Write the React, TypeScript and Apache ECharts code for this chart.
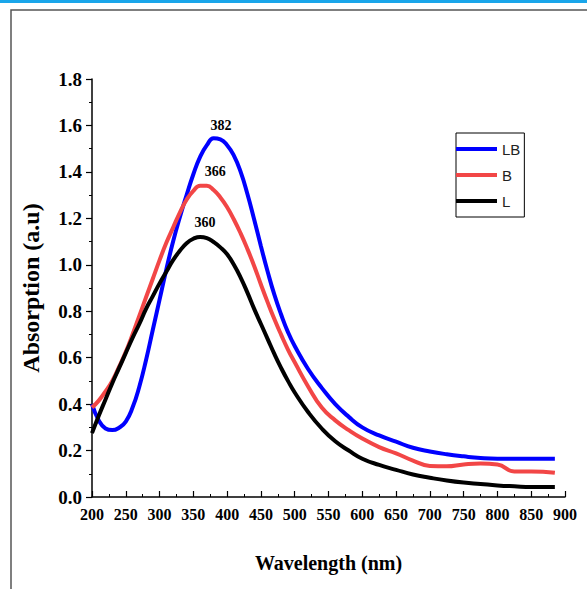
import React, { useEffect, useRef } from "react";
import * as echarts from "echarts";

const WAVELENGTHS = [200,210,220,230,240,250,260,270,280,290,300,310,320,330,340,350,360,370,380,390,400,410,420,430,440,450,460,470,480,490,500,520,540,560,580,600,625,650,675,700,725,750,775,800,825,850,885];

const LB = [0.40,0.33,0.295,0.288,0.298,0.325,0.385,0.475,0.59,0.72,0.85,0.98,1.10,1.205,1.30,1.39,1.465,1.515,1.545,1.54,1.515,1.47,1.40,1.305,1.195,1.08,0.97,0.87,0.785,0.71,0.65,0.55,0.47,0.40,0.345,0.30,0.265,0.238,0.212,0.196,0.184,0.175,0.168,0.165,0.165,0.165,0.165];

const B = [0.385,0.415,0.455,0.50,0.56,0.625,0.70,0.78,0.86,0.94,1.02,1.095,1.16,1.225,1.28,1.318,1.34,1.34,1.322,1.29,1.248,1.195,1.135,1.068,0.995,0.915,0.838,0.765,0.698,0.635,0.58,0.475,0.385,0.33,0.288,0.252,0.215,0.188,0.157,0.134,0.132,0.14,0.144,0.14,0.11,0.11,0.104];

const L = [0.275,0.35,0.42,0.49,0.555,0.62,0.685,0.745,0.81,0.865,0.92,0.97,1.02,1.06,1.093,1.112,1.12,1.115,1.098,1.075,1.045,1.00,0.945,0.88,0.81,0.745,0.68,0.615,0.555,0.50,0.45,0.365,0.295,0.24,0.20,0.165,0.138,0.117,0.097,0.083,0.071,0.062,0.056,0.05,0.046,0.043,0.043];

const SERIES_NAMES = ["LB", "B", "L"];
const SERIES_COLORS = ["#0000ff", "#f24646", "#000000"];
const PEAK_WAVELENGTHS = [382, 366, 360];
const PEAK_VALUES = [1.547, 1.345, 1.12];
const PEAK_LABEL_OFFSETS = [[6, -12], [11, -13], [5, -14]];

const X_MIN = 200, X_MAX = 900, X_STEP = 50;
const Y_MIN = 0, Y_MAX = 1.8, Y_STEP = 0.2;

export default function App() {
  const ref = useRef<HTMLDivElement>(null);
  useEffect(() => {
    if (!ref.current) return;
    const chart = echarts.init(ref.current, null, { renderer: "svg" });
    const data = [LB, B, L];
    const serif = "'Liberation Serif', 'Times New Roman', serif";
    chart.setOption({
      animation: false,
      backgroundColor: "#ffffff",
      grid: { left: 92, top: 79, right: 22, bottom: 92 },
      legend: {
        orient: "vertical",
        left: 456,
        top: 133,
        padding: [7, 4, 7, 0],
        borderColor: "#000",
        borderWidth: 1,
        itemWidth: 41,
        itemHeight: 4,
        itemGap: 8,
        icon: "rect",
        textStyle: { fontFamily: "'Liberation Sans', Arial, sans-serif", fontSize: 15, color: "#222", lineHeight: 18 },
        data: SERIES_NAMES,
      },
      xAxis: {
        type: "value",
        min: X_MIN,
        max: X_MAX,
        interval: X_STEP,
        name: "Wavelength (nm)",
        nameLocation: "middle",
        nameGap: 56,
        nameTextStyle: { fontFamily: serif, fontWeight: "bold", fontSize: 20, color: "#000" },
        axisLine: { show: true, lineStyle: { color: "#000", width: 1.5 } },
        axisTick: { show: true, inside: true, length: 6, lineStyle: { color: "#000", width: 1.2 } },
        minorTick: { show: true, splitNumber: 2, length: 3, lineStyle: { color: "#000", width: 1 } },
        splitLine: { show: false },
        axisLabel: { fontFamily: serif, fontWeight: "bold", fontSize: 16, color: "#000", margin: 9 },
      },
      yAxis: {
        type: "value",
        min: Y_MIN,
        max: Y_MAX,
        interval: Y_STEP,
        name: "Absorption (a.u)",
        nameLocation: "middle",
        nameGap: 49,
        nameTextStyle: { fontFamily: serif, fontWeight: "bold", fontSize: 24, color: "#000" },
        axisLine: { show: true, lineStyle: { color: "#000", width: 1.5 } },
        axisTick: { show: true, inside: false, length: 6, lineStyle: { color: "#000", width: 1.2 } },
        minorTick: { show: true, splitNumber: 2, length: 3, lineStyle: { color: "#000", width: 1 } },
        splitLine: { show: false },
        axisLabel: {
          fontFamily: serif, fontWeight: "bold", fontSize: 19, color: "#000", margin: 10,
          formatter: (v: number) => v.toFixed(1),
        },
      },
      graphic: [
        { type: "rect", left: 0, top: 0, shape: { width: 587, height: 3 }, style: { fill: "#1aa6ea" }, z: 100 },
        { type: "rect", x: 11, y: 10, shape: { width: 620, height: 620 }, style: { fill: "none", stroke: "#555", lineWidth: 1.5 }, z: -1 },
      ],
      series: SERIES_NAMES.map((name, i) => ({
        name,
        type: "line",
        smooth: 0.5,
        showSymbol: false,
        symbol: "none",
        lineStyle: { color: SERIES_COLORS[i], width: 4 },
        itemStyle: { color: SERIES_COLORS[i] },
        data: WAVELENGTHS.map((w, j) => [w, data[i][j]]),
        markPoint: {
          symbol: "circle",
          symbolSize: 1,
          itemStyle: { color: "rgba(0,0,0,0)" },
          label: {
            show: true,
            position: "inside",
            offset: PEAK_LABEL_OFFSETS[i],
            fontFamily: serif,
            fontWeight: "bold",
            fontSize: 14,
            color: "#000",
            formatter: () => String(PEAK_WAVELENGTHS[i]),
          },
          data: [{ coord: [PEAK_WAVELENGTHS[i], PEAK_VALUES[i]], value: PEAK_WAVELENGTHS[i] }],
        },
      })),
    });
    return () => chart.dispose();
  }, []);
  return <div ref={ref} style={{ position: "fixed", left: 0, top: 0, width: 587, height: 589, background: "#fff" }} />;
}
